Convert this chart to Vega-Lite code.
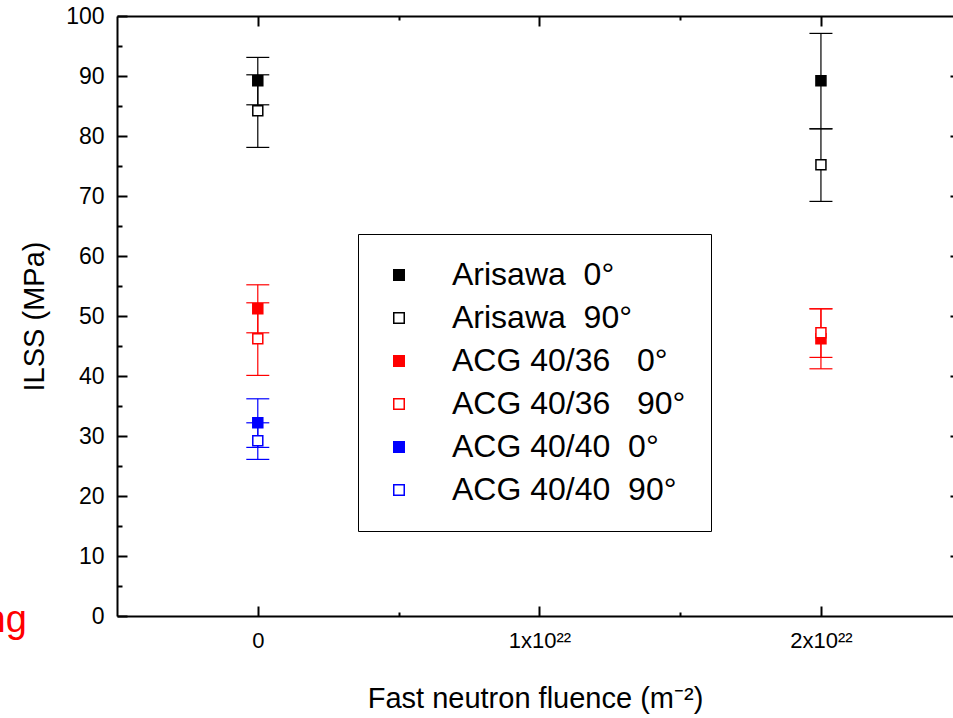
{
  "$schema": "https://vega.github.io/schema/vega-lite/v6.json",
  "width": 836,
  "height": 600,
  "autosize": {"type": "none"},
  "padding": {"left": 117, "top": 16, "right": 0, "bottom": 102},
  "background": "white",
  "config": {
    "view": {"stroke": null},
    "font": "Liberation Sans",
    "axis": {
      "grid": false,
      "domainColor": "black",
      "tickColor": "black",
      "labelColor": "black",
      "titleColor": "black",
      "domainWidth": 2,
      "tickWidth": 2,
      "labelFont": "Liberation Sans",
      "titleFont": "Liberation Sans",
      "titleFontWeight": "normal"
    }
  },
  "datasets": {
    "points": [
      {"fluence": 0, "series": "Arisawa\u00a0\u00a00°", "ilss": 89.2, "lo": 85.2, "hi": 93.1},
      {"fluence": 0, "series": "Arisawa\u00a0\u00a090°", "ilss": 84.2, "lo": 78.1, "hi": 90.2},
      {"fluence": 0, "series": "ACG 40/36\u00a0\u00a0\u00a00°", "ilss": 51.2, "lo": 47.2, "hi": 55.2},
      {"fluence": 0, "series": "ACG 40/36\u00a0\u00a0\u00a090°", "ilss": 46.2, "lo": 40.1, "hi": 52.2},
      {"fluence": 0, "series": "ACG 40/40\u00a0\u00a00°", "ilss": 32.2, "lo": 28.1, "hi": 36.2},
      {"fluence": 0, "series": "ACG 40/40\u00a0\u00a090°", "ilss": 29.2, "lo": 26.1, "hi": 32.2},
      {"fluence": 2, "series": "Arisawa\u00a0\u00a00°", "ilss": 89.2, "lo": 81.2, "hi": 97.1},
      {"fluence": 2, "series": "Arisawa\u00a0\u00a090°", "ilss": 75.2, "lo": 69.1, "hi": 81.2},
      {"fluence": 2, "series": "ACG 40/36\u00a0\u00a0\u00a00°", "ilss": 46.2, "lo": 41.2, "hi": 51.2},
      {"fluence": 2, "series": "ACG 40/36\u00a0\u00a0\u00a090°", "ilss": 47.2, "lo": 43.1, "hi": 51.2}
    ],
    "note": [
      {"label": "ng", "fluence": -0.82, "ilss": -2.6}
    ]
  },
  "data": {"name": "points"},
  "layer": [
    {
      "mark": {"type": "rule", "strokeWidth": 1.2},
      "encoding": {
        "x": {
          "field": "fluence", "type": "quantitative",
          "scale": {"domain": [-0.5, 2.469], "nice": false, "zero": false},
          "axis": {
            "orient": "bottom", "values": [0, 1, 2], "tickSize": -10,
            "labelExpr": "datum.value == 0 ? '0' : datum.value + 'x10²²'",
            "labelFontSize": 22, "labelPadding": 24,
            "title": "Fast neutron fluence (m⁻²)", "titleFontSize": 29, "titlePadding": 33
          }
        },
        "y": {
          "field": "lo", "type": "quantitative",
          "scale": {"domain": [0, 100], "nice": false, "zero": true},
          "axis": {
            "orient": "left", "values": [0, 10, 20, 30, 40, 50, 60, 70, 80, 90, 100],
            "tickSize": -10, "labelFontSize": 23, "labelPadding": 23,
            "title": "ILSS (MPa)", "titleFontSize": 29, "titlePadding": 16
          }
        },
        "y2": {"field": "hi"},
        "stroke": {
          "field": "series", "type": "nominal",
          "scale": {
            "domain": ["Arisawa\u00a0\u00a00°", "Arisawa\u00a0\u00a090°", "ACG 40/36\u00a0\u00a0\u00a00°", "ACG 40/36\u00a0\u00a0\u00a090°", "ACG 40/40\u00a0\u00a00°", "ACG 40/40\u00a0\u00a090°"],
            "range": ["#000000", "#000000", "#ff0000", "#ff0000", "#0000ff", "#0000ff"]
          }
        }
      }
    },
    {
      "mark": {"type": "rule", "strokeWidth": 1.2, "xOffset": -11.5, "x2Offset": 11.5},
      "encoding": {
        "x": {
          "field": "fluence", "type": "quantitative",
          "axis": {"orient": "bottom", "values": [0.5, 1.5], "tickSize": -4, "domain": false, "labels": false, "title": null}
        },
        "x2": {"field": "fluence"},
        "y": {
          "field": "lo", "type": "quantitative",
          "axis": {"orient": "left", "values": [5, 15, 25, 35, 45, 55, 65, 75, 85, 95], "tickSize": -5, "domain": false, "labels": false, "title": null}
        },
        "stroke": {"field": "series", "type": "nominal"}
      }
    },
    {
      "mark": {"type": "rule", "strokeWidth": 1.2, "xOffset": -11.5, "x2Offset": 11.5},
      "encoding": {
        "x": {
          "field": "fluence", "type": "quantitative",
          "axis": {"orient": "top", "values": [0, 1, 2], "tickSize": -10, "labels": false, "title": null}
        },
        "x2": {"field": "fluence"},
        "y": {
          "field": "hi", "type": "quantitative",
          "axis": {"orient": "right", "values": [10, 20, 30, 40, 50, 60, 70, 80, 90], "tickSize": -3, "domain": false, "labels": false, "title": null}
        },
        "stroke": {"field": "series", "type": "nominal"}
      }
    },
    {
      "mark": {"type": "square", "size": 100, "strokeWidth": 1.5, "opacity": 1},
      "encoding": {
        "x": {
          "field": "fluence", "type": "quantitative",
          "axis": {"orient": "top", "values": [0.5, 1.5], "tickSize": -4, "domain": false, "labels": false, "title": null}
        },
        "y": {"field": "ilss", "type": "quantitative", "axis": null},
        "fill": {
          "field": "series", "type": "nominal",
          "scale": {
            "domain": ["Arisawa\u00a0\u00a00°", "Arisawa\u00a0\u00a090°", "ACG 40/36\u00a0\u00a0\u00a00°", "ACG 40/36\u00a0\u00a0\u00a090°", "ACG 40/40\u00a0\u00a00°", "ACG 40/40\u00a0\u00a090°"],
            "range": ["#000000", "#ffffff", "#ff0000", "#ffffff", "#0000ff", "#ffffff"]
          },
          "legend": {
            "orient": "none", "legendX": 241, "legendY": 218, "title": null,
            "padding": 25, "strokeColor": "black", "fillColor": "white",
            "symbolType": "square", "symbolSize": 110, "symbolStrokeWidth": 1.5,
            "symbolOffset": 0, "labelOffset": 37, "labelFontSize": 32,
            "labelFont": "Liberation Sans", "labelColor": "black", "rowPadding": 11, "labelLimit": 0
          }
        },
        "stroke": {"field": "series", "type": "nominal"}
      }
    },
    {
      "data": {"name": "note"},
      "mark": {"type": "text", "align": "right", "baseline": "alphabetic", "fontSize": 38, "color": "#ff0000", "font": "Liberation Sans"},
      "encoding": {
        "x": {"field": "fluence", "type": "quantitative", "axis": null},
        "y": {"field": "ilss", "type": "quantitative", "axis": null},
        "text": {"field": "label"}
      }
    }
  ],
  "resolve": {"axis": {"x": "independent", "y": "independent"}}
}
